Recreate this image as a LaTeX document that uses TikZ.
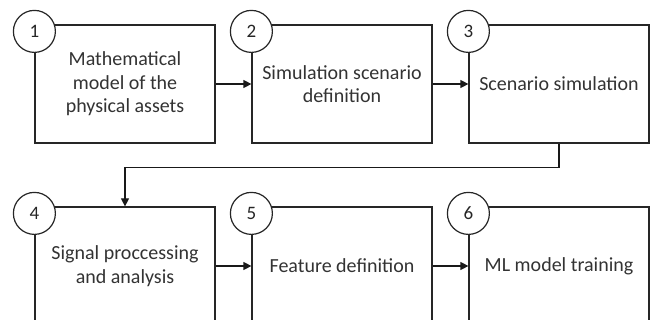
\documentclass[tikz,border=0pt]{standalone}
\usepackage{fontspec}
\setmainfont{Carlito}
\usetikzlibrary{arrows.meta,calc}
\begin{document}
\begin{tikzpicture}[x=1pt,y=-1pt,
  line width=1.2pt,
  stagebox/.style={draw=black!85, minimum width=180pt, minimum height=118pt,
    inner sep=0pt, align=center, text=black!80,
    font=\fontsize{20}{23.5}\selectfont},
  stagenum/.style={circle, draw=black!85, fill=white, minimum size=42pt,
    inner sep=0pt, text=black!85, font=\fontsize{19}{20}\selectfont},
  flow/.style={draw=black!90, -{Triangle[length=8pt,width=8pt]}}]
\useasboundingbox (0,0) rectangle (656,320);
\clip (0,0) rectangle (656,320);
\fill[white] (0,0) rectangle (656,320);

% process stages, first row
\node[stagebox] (b1) at (125,84) {Mathematical\\model of the\\physical assets};
\node[stagebox] (b2) at (342,84) {Simulation scenario\\definition};
\node[stagebox] (b3) at (559,84) {Scenario simulation};
% second row (runs past the lower edge)
\node[stagebox] (b4) at (125,266) {Signal proccessing\\and analysis};
\node[stagebox] (b5) at (342,266) {Feature definition};
\node[stagebox] (b6) at (559,266) {ML model training};

% step numbers on the upper-left corners
\foreach \i in {1,...,6}
  \node[stagenum] (c\i) at ($(b\i.north west)+(0,7)$) {\i};

% connectors
\draw[flow] (b1.east) -- (b2.west);
\draw[flow] (b2.east) -- (b3.west);
\coordinate (turn) at ($(b3.south)+(0,24)$);
\draw[flow] (b3.south) -- (turn) -| (b4.north);
\draw[flow] (b4.east) -- (b5.west);
\draw[flow] (b5.east) -- (b6.west);
\end{tikzpicture}
\end{document}
